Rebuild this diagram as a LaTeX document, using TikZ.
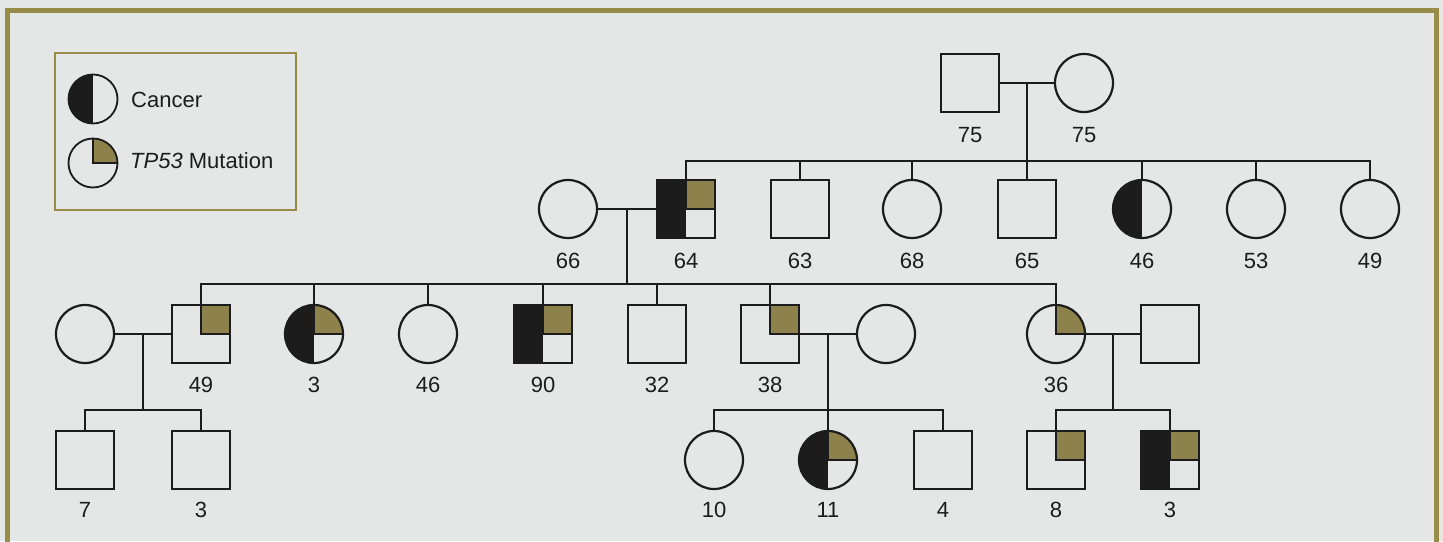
\documentclass[tikz,border=0pt]{standalone}
\usepackage{fontspec}
\setmainfont{Liberation Sans}
\definecolor{bg}{RGB}{229,231,230}
\definecolor{olivefill}{RGB}{141,129,76}
\definecolor{oliveline}{RGB}{152,141,72}
\definecolor{ink}{RGB}{28,28,28}
\begin{document}
\begin{tikzpicture}[x=1pt,y=-1pt,
  person/.style={draw=ink, line width=2.2pt, minimum size=58pt, inner sep=0pt},
  male/.style={person, rectangle},
  female/.style={person, circle},
  cancer/.style={path picture={\fill[ink] (path picture bounding box.south west) rectangle (path picture bounding box.north);}},
  tp/.style={path picture={\fill[olivefill] (path picture bounding box.center) rectangle (path picture bounding box.north east);
      \draw[ink, line width=2.2pt] (path picture bounding box.north) -- (path picture bounding box.center) -- (path picture bounding box.east);}},
  both/.style={path picture={\fill[ink] (path picture bounding box.south west) rectangle (path picture bounding box.north);
      \fill[olivefill] (path picture bounding box.center) rectangle (path picture bounding box.north east);
      \draw[ink, line width=2.2pt] (path picture bounding box.north) -- (path picture bounding box.center) -- (path picture bounding box.east);}},
  lab/.style={font=\fontsize{22}{25}\selectfont, text=ink, inner sep=0pt},
  con/.style={draw=ink, line width=2.2pt},
  legtext/.style={font=\fontsize{22}{25}\selectfont, text=ink, inner sep=0pt, anchor=west}
]
\useasboundingbox (0,0) rectangle (1443,541);
\fill[bg] (0,0) rectangle (1443,541);
\draw[oliveline, line width=4.5pt] (7.5,545) -- (7.5,10.5) -- (1436.5,10.5) -- (1436.5,545);

% legend
\draw[oliveline, line width=2pt] (55,53) rectangle (296,210);
\node[female, minimum size=49pt, line width=1.8pt, cancer] (legc) at (93,99) {};
\node[female, minimum size=49pt, line width=1.8pt, path picture={\fill[olivefill] (path picture bounding box.center) rectangle (path picture bounding box.north east);
      \draw[ink, line width=1.8pt] (path picture bounding box.north) -- (path picture bounding box.center) -- (path picture bounding box.east);}] (legt) at (93,163) {};
\node[legtext] (legct) at (131,100) {Cancer};
\node[legtext] (legtt) at (130,161) {\textit{TP53} Mutation};

% generation 1
\node[male] (p75m) at (970,83) {};
\node[female] (p75f) at (1084,83) {};
\node[lab] (l75m) at (970,135) {75};
\node[lab] (l75f) at (1084,135) {75};

% generation 2
\node[female] (p66) at (568,209) {};
\node[male, both] (p64) at (686,209) {};
\node[male] (p63) at (800,209) {};
\node[female] (p68) at (912,209) {};
\node[male] (p65) at (1027,209) {};
\node[female, cancer] (p46a) at (1142,209) {};
\node[female] (p53) at (1256,209) {};
\node[female] (p49a) at (1370,209) {};
\foreach \n/\x/\t in {p66/568/66, p64/686/64, p63/800/63, p68/912/68, p65/1027/65, p46a/1142/46, p53/1256/53, p49a/1370/49}
  \node[lab] (l\n) at (\x,261) {\t};

% generation 3
\node[female] (w49) at (85,334) {};
\node[male, tp] (p49b) at (201,334) {};
\node[female, both] (p3a) at (314,334) {};
\node[female] (p46b) at (428,334) {};
\node[male, both] (p90) at (543,334) {};
\node[male] (p32) at (657,334) {};
\node[male, tp] (p38) at (770,334) {};
\node[female] (w38) at (886,334) {};
\node[female, tp] (p36) at (1056,334) {};
\node[male] (h36) at (1170,334) {};
\foreach \n/\x/\t in {p49b/201/49, p3a/314/3, p46b/428/46, p90/543/90, p32/657/32, p38/770/38, p36/1056/36}
  \node[lab] (l\n) at (\x,385) {\t};

% generation 4
\node[male] (p7) at (85,460) {};
\node[male] (p3b) at (201,460) {};
\node[female] (p10) at (714,460) {};
\node[female, both] (p11) at (828,460) {};
\node[male] (p4) at (943,460) {};
\node[male, tp] (p8) at (1056,460) {};
\node[male, both] (p3c) at (1170,460) {};
\foreach \n/\x/\t in {p7/85/7, p3b/201/3, p10/714/10, p11/828/11, p4/943/4, p8/1056/8, p3c/1170/3}
  \node[lab] (l\n) at (\x,510) {\t};

% connectors: generation 1 -> 2
\path (p75m.east) -- coordinate[midway] (j1) (p75f.west);
\coordinate (s1) at (1027,161);
\draw[con] (p75m.east) -- (p75f.west);
\draw[con] (j1) -- (j1 |- s1);
\draw[con] (p64.north) -- (p64.north |- s1) -- (p49a.north |- s1) -- (p49a.north);
\foreach \n in {p63,p68,p65,p46a,p53} \draw[con] (\n.north) -- (\n.north |- s1);

% generation 2 -> 3
\path (p66.east) -- coordinate[midway] (j2) (p64.west);
\coordinate (s2) at (627,284);
\draw[con] (p66.east) -- (p64.west);
\draw[con] (j2) -- (j2 |- s2);
\draw[con] (p49b.north) -- (p49b.north |- s2) -- (p36.north |- s2) -- (p36.north);
\foreach \n in {p3a,p46b,p90,p32,p38} \draw[con] (\n.north) -- (\n.north |- s2);

% generation 3 -> 4
\path (w49.east) -- coordinate[midway] (j3) (p49b.west);
\coordinate (s3) at (143,410);
\draw[con] (w49.east) -- (p49b.west);
\draw[con] (j3) -- (j3 |- s3);
\draw[con] (p7.north) -- (p7.north |- s3) -- (p3b.north |- s3) -- (p3b.north);

\path (p38.east) -- coordinate[midway] (j4) (w38.west);
\coordinate (s4) at (828,410);
\draw[con] (p38.east) -- (w38.west);
\draw[con] (j4) -- (j4 |- s4);
\draw[con] (p10.north) -- (p10.north |- s4) -- (p4.north |- s4) -- (p4.north);
\draw[con] (p11.north) -- (p11.north |- s4);

\path (p36.east) -- coordinate[midway] (j5) (h36.west);
\coordinate (s5) at (1113,410);
\draw[con] (p36.east) -- (h36.west);
\draw[con] (j5) -- (j5 |- s5);
\draw[con] (p8.north) -- (p8.north |- s5) -- (p3c.north |- s5) -- (p3c.north);
\end{tikzpicture}
\end{document}
